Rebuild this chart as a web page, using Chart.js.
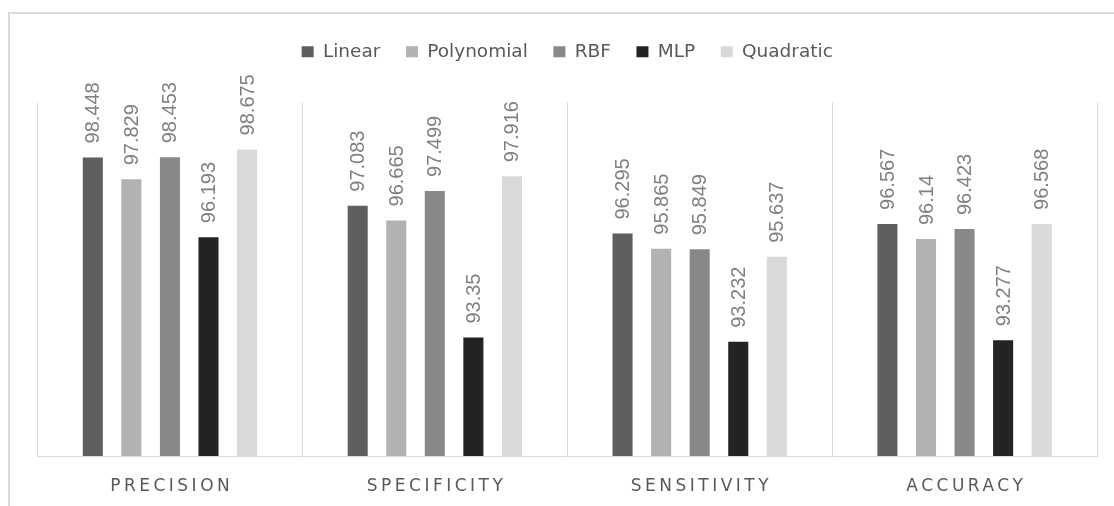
<!DOCTYPE html>
<html>
<head>
<meta charset="utf-8">
<script src="https://cdn.jsdelivr.net/npm/chart.js@4.4.1/dist/chart.umd.min.js"></script>
<style>
  html, body { margin: 0; padding: 0; background: #fff; overflow: hidden; }
  #frame {
    position: absolute; left: 8px; top: 12px; width: 1200px; height: 600px;
    border-top: 2px solid #d9d9d9; border-left: 2px solid #d9d9d9;
    box-sizing: border-box;
  }
  #wrap { position: absolute; left: 0; top: 0; width: 1114px; height: 506px; }
</style>
</head>
<body>
<div id="frame"></div>
<div id="wrap"><canvas id="chart"></canvas></div>
<script>
// categories and series values
const categories = ['PRECISION', 'SPECIFICITY', 'SENSITIVITY', 'ACCURACY'];
const seriesNames = ['Linear', 'Polynomial', 'RBF', 'MLP', 'Quadratic'];
const linear     = [98.448, 97.083, 96.295, 96.567];
const polynomial = [97.829, 96.665, 95.865, 96.14];
const rbf        = [98.453, 97.499, 95.849, 96.423];
const mlp        = [96.193, 93.35, 93.232, 93.277];
const quadratic  = [98.675, 97.916, 95.637, 96.568];
const yMin = 90;
const yMax = 100;

const colors = ['#5f5f5f', '#b2b2b2', '#888888', '#232323', '#d9d9d9'];
const allSeries = [linear, polynomial, rbf, mlp, quadratic];

// extra room under the legend (Chart.js has no option for it)
const legendSpacer = {
    id: 'legendSpacer',
    beforeInit(chart) {
        const fit = chart.legend.fit;
        chart.legend.fit = function () {
            fit.bind(chart.legend)();
            this.height += 31.5;
        };
    }
};

// rotated value labels above each bar
const barLabels = {
    id: 'barLabels',
    afterDatasetsDraw(chart) {
        const ctx = chart.ctx;
        ctx.save();
        ctx.font = '20px "Liberation Sans", Arial, sans-serif';
        ctx.fillStyle = '#808080';
        ctx.textAlign = 'left';
        ctx.textBaseline = 'middle';
        chart.data.datasets.forEach((ds, i) => {
            chart.getDatasetMeta(i).data.forEach((bar, j) => {
                ctx.save();
                ctx.translate(bar.x + 1, bar.y - 14);
                ctx.rotate(-Math.PI / 2);
                ctx.fillText(String(ds.data[j]), 0, 0);
                ctx.restore();
            });
        });
        ctx.restore();
    }
};

// spaced-out category labels under the axis
const categoryLabels = {
    id: 'categoryLabels',
    afterDraw(chart) {
        const ctx = chart.ctx;
        const xs = chart.scales.x;
        ctx.save();
        ctx.font = '17px "DejaVu Sans", sans-serif';
        ctx.letterSpacing = '3.5px';
        ctx.fillStyle = '#595959';
        ctx.textAlign = 'center';
        ctx.textBaseline = 'alphabetic';
        categories.forEach((c, i) => {
            ctx.fillText(c, xs.getPixelForTick(i) + 1.75, chart.chartArea.bottom + 34.5);
        });
        ctx.restore();
    }
};

const ctx = document.getElementById('chart').getContext('2d');
new Chart(ctx, {
    type: 'bar',
    data: {
        labels: categories,
        datasets: seriesNames.map((name, i) => ({
            label: name,
            data: allSeries[i],
            backgroundColor: colors[i],
            borderWidth: 0,
            categoryPercentage: 0.728,
            barPercentage: 0.52
        }))
    },
    options: {
        responsive: true,
        maintainAspectRatio: false,
        animation: false,
        layout: { padding: { left: 37.5, right: 17, top: 17, bottom: 50 } },
        plugins: {
            tooltip: { enabled: false },
            legend: {
                position: 'top',
                labels: {
                    boxWidth: 12,
                    boxHeight: 11,
                    padding: 25.6,
                    color: '#595959',
                    font: { family: '"DejaVu Sans", sans-serif', size: 18.5 }
                }
            }
        },
        scales: {
            x: {
                grid: { color: '#d9d9d9', lineWidth: 1, drawTicks: false, offset: true },
                border: { color: '#d9d9d9', width: 1 },
                ticks: { display: false }
            },
            y: {
                display: false,
                min: yMin,
                max: yMax
            }
        }
    },
    plugins: [legendSpacer, barLabels, categoryLabels]
});
</script>
</body>
</html>
